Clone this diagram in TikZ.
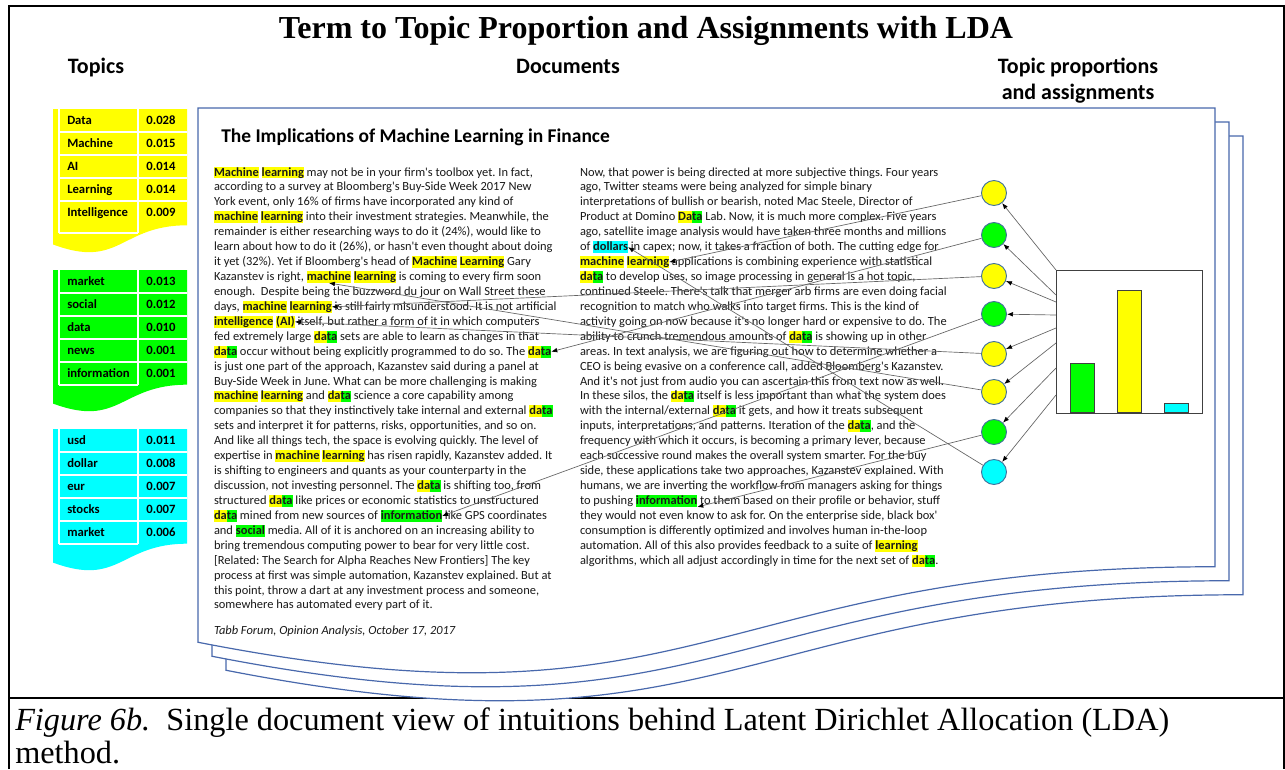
\documentclass[tikz,border=0pt]{standalone}
\usepackage{fontspec}
\setmainfont{Liberation Serif}
\newfontfamily\carl{Carlito}
\usetikzlibrary{arrows.meta,calc}

\definecolor{hly}{RGB}{255,255,0}
\definecolor{hlg}{RGB}{0,255,0}
\definecolor{hlc}{RGB}{0,255,255}
\definecolor{pageblue}{RGB}{72,104,172}
\definecolor{bodytext}{RGB}{25,25,25}
\definecolor{circedge}{RGB}{65,113,156}
\definecolor{linkgray}{RGB}{100,100,100}
\definecolor{chartedge}{RGB}{64,64,64}

\setlength\fboxsep{0pt}
\frenchspacing
% highlighted words
\newcommand\hlstrut{\vrule height 0.76em depth 0.2em width 0pt}
\newcommand\hY[1]{\colorbox{hly}{\hlstrut\bfseries #1}}
\newcommand\hG[1]{\colorbox{hlg}{\hlstrut\bfseries #1}}
\newcommand\hC[1]{\colorbox{hlc}{\hlstrut\bfseries #1}}
\newcommand\twotone[2]{\hY{#1}\hG{#2}}
\newcommand\gap{\hbox{\ }}
\newcommand\bodyfont{\carl\fontsize{9.33}{11}\selectfont}
\newcommand\ly[1]{176+14.93*(#1-1)}
\newcommand\Lline[2]{\node[txt] (L#1) at (214,{\ly{#1}}) {#2};}
\newcommand\Rline[2]{\node[txt] (R#1) at (580,{\ly{#1}}) {#2};}
% flowchart "document" outline: style, left, top, right, height
\newcommand\docshape[5]{\path[#1] (#2,#3) -- (#4,#3) -- (#4,{#3+0.802*#5})
  .. controls ({(#2+#4)/2},{#3+0.802*#5}) and ({(#2+#4)/2},{#3+1.1075*#5}) .. (#2,{#3+0.934*#5}) -- cycle;}

\begin{document}
\begin{tikzpicture}[x=0.75pt,y=-0.75pt,
  frame/.style={draw=black,line width=1.5pt},
  pagestyle/.style={draw=pageblue,fill=white,line width=0.9pt},
  txt/.style={anchor=base west,inner sep=0pt,outer sep=0pt,text=bodytext,font=\bodyfont},
  head/.style={anchor=base,inner sep=0pt,font=\carl\bfseries\fontsize{16.5}{20}\selectfont},
  cellword/.style={anchor=west,inner sep=0pt,text height=7pt,text depth=2pt,font=\carl\bfseries\fontsize{9.5}{11}\selectfont},
  cellnum/.style={anchor=center,inner sep=0pt,text height=7pt,text depth=2pt,font=\carl\bfseries\fontsize{9.5}{11}\selectfont},
  gridline/.style={draw=white,line width=0.8pt},
  topic/.style={circle,draw=circedge,line width=0.7pt,minimum size=18.75pt,inner sep=0pt},
  bar/.style={draw=chartedge,line width=0.8pt,minimum width=18pt,inner sep=0pt,anchor=south west},
  link/.style={draw=linkgray,line width=0.5pt,-{Latex[length=4.5pt,width=3.5pt,color=black]}},
]
\useasboundingbox (0,0) rectangle (1285,769);

% outer frame and caption rule
\draw[frame] (9,769) -- (9,6) -- (1284,6) -- (1284,769);
\draw[frame] (9,698) -- (1284,698);

% title and column heads
\node[anchor=base,inner sep=0pt,font=\bfseries\fontsize{24}{28}\selectfont] (title) at (646,38)
  {Term to Topic Proportion and Assignments with LDA};
\node[head] (hTopics) at (96,73) {Topics};
\node[head] (hDocs) at (568,73) {Documents};
\node[head] (hProp1) at (1078,73) {Topic proportions};
\node[head] (hProp2) at (1078,99) {and assignments};

% caption
\node[anchor=base west,inner sep=0pt,font=\fontsize{24.2}{28}\selectfont] (cap1) at (15,730)
  {\textit{Figure 6b.}\ \ Single document view of intuitions behind Latent Dirichlet Allocation (LDA)};
\node[anchor=base west,inner sep=0pt,font=\fontsize{24.2}{28}\selectfont] (cap2) at (15,763) {method.};

% topic tables
\docshape{fill=hly}{53}{109}{187}{145}
\docshape{fill=hlg}{53}{270}{187}{143}
\docshape{fill=hlc}{53}{429}{187}{143}
\foreach \T/\B in {109/233,270/385,429/544}{
  \draw[gridline] (59,\T) -- (59,\B);
  \draw[gridline] (138,\T) -- (138,\B);
  \foreach \k in {1,...,4} \draw[gridline] (59,{\T+23*\k}) -- (187,{\T+23*\k});
  \draw[gridline] (59,\B) -- (138,\B);
}
\foreach \w/\v [count=\i] in {Data/0.028,Machine/0.015,AI/0.014,Learning/0.014,Intelligence/0.009}{
  \node[cellword] (ya\i) at (67,{121+23*(\i-1)}) {\w};
  \node[cellnum] (yb\i) at (161,{121+23*(\i-1)}) {\v};
}
\foreach \w/\v [count=\i] in {market/0.013,social/0.012,data/0.010,news/0.001,information/0.001}{
  \node[cellword] (ga\i) at (67,{282+23*(\i-1)}) {\w};
  \node[cellnum] (gb\i) at (161,{282+23*(\i-1)}) {\v};
}
\foreach \w/\v [count=\i] in {usd/0.011,dollar/0.008,eur/0.007,stocks/0.007,market/0.006}{
  \node[cellword] (ca\i) at (67,{441+23*(\i-1)}) {\w};
  \node[cellnum] (cb\i) at (161,{441+23*(\i-1)}) {\v};
}

% stacked pages
\docshape{pagestyle}{226}{136}{1243}{572}
\docshape{pagestyle}{212}{122}{1229}{572}
\docshape{pagestyle}{198}{108}{1215}{572}

% article
\node[anchor=base west,inner sep=0pt,font=\carl\bfseries\fontsize{14.6}{17}\selectfont,text=black] (heading) at (221,142)
  {The Implications of Machine Learning in Finance};

\Lline{1}{\hY{Machine} \hY{learning} may not be in your firm's toolbox yet. In fact,}
\Lline{2}{according to a survey at Bloomberg's Buy-Side Week 2017 New}
\Lline{3}{York event, only 16\% of firms have incorporated any kind of}
\Lline{4}{\hY{machine} \hY{learning} into their investment strategies. Meanwhile, the}
\Lline{5}{remainder is either researching ways to do it (24\%), would like to}
\Lline{6}{learn about how to do it (26\%), or hasn't even thought about doing}
\Lline{7}{it yet (32\%). Yet if Bloomberg's head of \hY{Machine} \hY{Learning} Gary}
\node[txt] (L8) at (214,{\ly{8}}) {Kazanstev is right,\gap};
\node[txt] (wL8) at (L8.base east) {\hY{machine}};
\node[txt] (L8b) at (wL8.base east) {\gap\hY{learning} is coming to every firm soon};
\Lline{9}{enough.\ \ Despite being the buzzword du jour on Wall Street these}
\node[txt] (L10) at (214,{\ly{10}}) {days,\gap\hY{machine}\gap};
\node[txt] (wL10) at (L10.base east) {\hY{learning}};
\node[txt] (L10b) at (wL10.base east) {\gap is still fairly misunderstood. It is not artificial};
\node[txt] (L11) at (214,{\ly{11}}) {\hY{intelligence}\gap};
\node[txt] (wL11) at (L11.base east) {\hY{(AI)}};
\node[txt] (L11b) at (wL11.base east) {\gap itself, but rather a form of it in which computers};
\Lline{12}{fed extremely large \twotone{da}{ta} sets are able to learn as changes in that}
\node[txt] (L13) at (214,{\ly{13}}) {\twotone{da}{ta} occur without being explicitly programmed to do so. The\gap};
\node[txt] (wL13) at (L13.base east) {\twotone{da}{ta}};
\Lline{14}{is just one part of the approach, Kazanstev said during a panel at}
\Lline{15}{Buy-Side Week in June. What can be more challenging is making}
\Lline{16}{\hY{machine} \hY{learning} and \twotone{da}{ta} science a core capability among}
\Lline{17}{companies so that they instinctively take internal and external \twotone{da}{ta}}
\Lline{18}{sets and interpret it for patterns, risks, opportunities, and so on.}
\Lline{19}{And like all things tech, the space is evolving quickly. The level of}
\Lline{20}{expertise in \hY{machine} \hY{learning} has risen rapidly, Kazanstev added. It}
\Lline{21}{is shifting to engineers and quants as your counterparty in the}
\Lline{22}{discussion, not investing personnel. The \twotone{da}{ta} is shifting too, from}
\Lline{23}{structured \twotone{da}{ta} like prices or economic statistics to unstructured}
\node[txt] (L24) at (214,{\ly{24}}) {\twotone{da}{ta} mined from new sources of\gap};
\node[txt] (wL24) at (L24.base east) {\hG{information}};
\node[txt] (L24b) at (wL24.base east) {\gap like GPS coordinates};
\Lline{25}{and \hG{social} media. All of it is anchored on an increasing ability to}
\Lline{26}{bring tremendous computing power to bear for very little cost.}
\Lline{27}{[Related: The Search for Alpha Reaches New Frontiers] The key}
\Lline{28}{process at first was simple automation, Kazanstev explained. But at}
\Lline{29}{this point, throw a dart at any investment process and someone,}
\Lline{30}{somewhere has automated every part of it.}
\node[txt,font=\bodyfont\itshape] (source) at (214,634) {Tabb Forum, Opinion Analysis, October 17, 2017};

\Rline{1}{Now, that power is being directed at more subjective things. Four years}
\Rline{2}{ago, Twitter steams were being analyzed for simple binary}
\Rline{3}{interpretations of bullish or bearish, noted Mac Steele, Director of}
\Rline{4}{Product at Domino \twotone{Da}{ta} Lab. Now, it is much more complex. Five years}
\Rline{5}{ago, satellite image analysis would have taken three months and millions}
\node[txt] (R6) at (580,{\ly{6}}) {of\gap};
\node[txt] (wR6) at (R6.base east) {\hC{dollars}};
\node[txt] (R6b) at (wR6.base east) {\gap in capex; now, it takes a fraction of both. The cutting edge for};
\node[txt] (R7) at (580,{\ly{7}}) {\hY{machine}\gap};
\node[txt] (wR7) at (R7.base east) {\hY{learning}};
\node[txt] (R7b) at (wR7.base east) {\gap applications is combining experience with statistical};
\Rline{8}{\twotone{da}{ta} to develop uses, so image processing in general is a hot topic,}
\Rline{9}{continued Steele. There's talk that merger arb firms are even doing facial}
\Rline{10}{recognition to match who walks into target firms. This is the kind of}
\Rline{11}{activity going on now because it's no longer hard or expensive to do. The}
\Rline{12}{ability to crunch tremendous amounts of \twotone{da}{ta} is showing up in other}
\Rline{13}{areas. In text analysis, we are figuring out how to determine whether a}
\Rline{14}{CEO is being evasive on a conference call, added Bloomberg's Kazanstev.}
\Rline{15}{And it's not just from audio you can ascertain this from text now as well.}
\Rline{16}{In these silos, the \twotone{da}{ta} itself is less important than what the system does}
\Rline{17}{with the internal/external \twotone{da}{ta} it gets, and how it treats subsequent}
\Rline{18}{inputs, interpretations, and patterns. Iteration of the \twotone{da}{ta}, and the}
\Rline{19}{frequency with which it occurs, is becoming a primary lever, because}
\Rline{20}{each successive round makes the overall system smarter. For the buy}
\Rline{21}{side, these applications take two approaches, Kazanstev explained. With}
\Rline{22}{humans, we are inverting the workflow from managers asking for things}
\node[txt] (R23) at (580,{\ly{23}}) {to pushing\gap};
\node[txt] (wR23) at (R23.base east) {\hG{information}};
\node[txt] (R23b) at (wR23.base east) {\gap to them based on their profile or behavior, stuff};
\Rline{24}{they would not even know to ask for. On the enterprise side, black box'}
\Rline{25}{consumption is differently optimized and involves human in-the-loop}
\Rline{26}{automation. All of this also provides feedback to a suite of \hY{learning}}
\Rline{27}{algorithms, which all adjust accordingly in time for the next set of \twotone{da}{ta}.}

% topic assignment circles
\foreach \k/\y/\f in {1/193/hly,2/235/hlg,3/276/hly,4/314/hlg,5/354/hly,6/392/hly,7/432/hlg,8/472/hlc}
  \node[topic,fill=\f] (c\k) at (994,\y) {};

% topic proportion chart
\node[draw=chartedge,line width=0.9pt,fill=white,minimum width=109.5pt,minimum height=107.25pt,inner sep=0pt,anchor=north west] (chart) at (1056,270) {};
\node[bar,fill=hlg,minimum height=36.75pt] (bar1) at (1070,413) {};
\node[bar,fill=hly,minimum height=91.5pt] (bar2) at (1117,413) {};
\node[bar,fill=hlc,minimum height=6.75pt] (bar3) at (1164,413) {};

% proportions to assignments
\coordinate (s1) at (chart.north west);
\foreach \k/\dy in {2/25,3/32,4/45,5/58,6/73,7/98,8/125}
  \coordinate (s\k) at ($(chart.north west)+(0,\dy)$);
\foreach \k in {1,...,8} \draw[link] (s\k) -- (c\k);

% assignments to words
\draw[link] (c1) -- (wR7.east);
\draw[link] (c2) -- (wL13.east);
\draw[link] (c3) -- (wL10.east);
\draw[link] (c4) -- (wL24.east);
\draw[link] (c5) -- (wL11.east);
\draw[link] (c6) -- (wL8.south);
\draw[link] (c7) -- (wR23.south east);
\draw[link] (c8) -- (wR6.east);
\end{tikzpicture}
\end{document}
